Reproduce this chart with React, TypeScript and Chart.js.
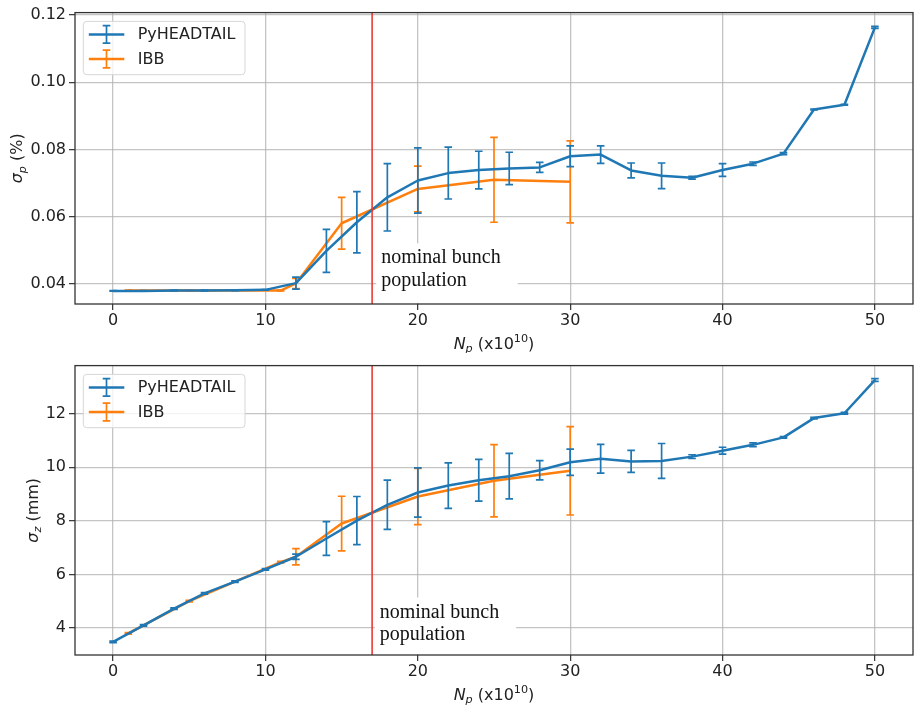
import React, { useEffect, useRef } from 'react';
import { Chart, registerables } from 'chart.js';

Chart.register(...registerables);

// ---- data -------------------------------------------------------------
const seriesNames = ['PyHEADTAIL', 'IBB'];

const pyNp = [0, 2, 4, 6, 8, 10, 12, 14, 16, 18, 20, 22, 24, 26, 28, 30, 32, 34, 36, 38, 40, 42, 44, 46, 48, 50];
const pySigmaP = [0.038, 0.038, 0.0381, 0.0381, 0.0382, 0.0383, 0.0403, 0.0499, 0.0584, 0.0658, 0.0708, 0.073, 0.0739, 0.0744, 0.0747, 0.078, 0.0785, 0.0738, 0.0722, 0.0716, 0.0739, 0.0758, 0.0788, 0.0919, 0.0933, 0.1163];
const pySigmaPErr = [0.0001, 0.0001, 0.0001, 0.0001, 0.0001, 0.0001, 0.0018, 0.0064, 0.0091, 0.01, 0.0097, 0.0077, 0.0056, 0.0048, 0.0015, 0.0031, 0.0026, 0.0022, 0.0038, 0.0004, 0.0019, 0.0005, 0.0003, 0.0001, 0.0001, 0.0003];
const pySigmaZ = [3.48, 4.1, 4.72, 5.29, 5.73, 6.19, 6.66, 7.34, 8.01, 8.6, 9.06, 9.32, 9.52, 9.67, 9.89, 10.19, 10.32, 10.22, 10.24, 10.4, 10.62, 10.84, 11.12, 11.84, 12.02, 13.26];
const pySigmaZErr = [0.03, 0.03, 0.03, 0.03, 0.03, 0.03, 0.1, 0.63, 0.9, 0.92, 0.92, 0.85, 0.78, 0.85, 0.36, 0.49, 0.54, 0.41, 0.65, 0.07, 0.13, 0.07, 0.03, 0.03, 0.03, 0.05];

const ibbNp = [1, 5, 11, 12, 15, 20, 25, 30];
const ibbSigmaP = [0.0381, 0.0381, 0.0381, 0.0402, 0.0581, 0.0683, 0.071, 0.0704];
const ibbSigmaPErr = [0.0001, 0.0001, 0.0001, 0.0015, 0.0077, 0.0068, 0.0126, 0.0122];
const ibbSigmaZ = [3.8, 5.0, 6.46, 6.66, 7.9, 8.91, 9.5, 9.87];
const ibbSigmaZErr = [0.03, 0.03, 0.03, 0.3, 1.02, 1.05, 1.35, 1.65];

const xTicks = [0, 10, 20, 30, 40, 50];
const sigmaPTicks = [0.04, 0.06, 0.08, 0.1, 0.12];
const sigmaZTicks = [4, 6, 8, 10, 12];

const nominalNp = 17;
const annotationLines = ['nominal bunch', 'population'];

// ---- style -------------------------------------------------------------
const BLUE = '#1f77b4';
const ORANGE = '#ff7f0e';
const SANS = '"DejaVu Sans"';
const TICK_FONT_SIZE = 16;
const TICK_LEN = 6;

type Part = { text: string; size: number; italic?: boolean; dy?: number };

function drawRich(ctx: CanvasRenderingContext2D, parts: Part[], cx: number, cy: number) {
  let total = 0;
  const widths = parts.map((p) => {
    ctx.font = `${p.italic ? 'italic ' : ''}${p.size}px ${SANS}`;
    const w = ctx.measureText(p.text).width;
    total += w;
    return w;
  });
  let x = cx - total / 2;
  ctx.textBaseline = 'alphabetic';
  ctx.textAlign = 'left';
  parts.forEach((p, i) => {
    ctx.font = `${p.italic ? 'italic ' : ''}${p.size}px ${SANS}`;
    ctx.fillText(p.text, x, cy + (p.dy || 0));
    x += widths[i];
  });
}

type PanelSpec = {
  errors: number[][];
  yTitle: Part[];
  annotX: number;
  annotY: number;
};

function makeDecor(spec: PanelSpec) {
  return {
    id: 'panelDecor',
    beforeDatasetDraw(chart: any, args: any) {
      const ds = chart.data.datasets[args.index];
      const errs = spec.errors[args.index];
      const xs = chart.scales.x;
      const ys = chart.scales.y;
      const ctx = chart.ctx as CanvasRenderingContext2D;
      const area = chart.chartArea;
      ctx.save();
      ctx.beginPath();
      ctx.rect(area.left, area.top, area.right - area.left, area.bottom - area.top);
      ctx.clip();
      ctx.strokeStyle = ds.borderColor;
      ctx.lineWidth = 1.7;
      const cap = 3.8;
      ds.data.forEach((pt: { x: number; y: number }, i: number) => {
        const e = errs[i];
        const px = xs.getPixelForValue(pt.x);
        const y1 = ys.getPixelForValue(pt.y + e);
        const y2 = ys.getPixelForValue(pt.y - e);
        ctx.beginPath();
        ctx.moveTo(px, y1);
        ctx.lineTo(px, y2);
        ctx.moveTo(px - cap, y1);
        ctx.lineTo(px + cap, y1);
        ctx.moveTo(px - cap, y2);
        ctx.lineTo(px + cap, y2);
        ctx.stroke();
      });
      ctx.restore();
    },
    afterDatasetsDraw(chart: any) {
      const ctx = chart.ctx as CanvasRenderingContext2D;
      const area = chart.chartArea;
      const xs = chart.scales.x;
      const ys = chart.scales.y;

      // vertical marker at the nominal population
      const rx = xs.getPixelForValue(nominalNp);
      ctx.save();
      ctx.strokeStyle = 'rgb(238,58,48)';
      ctx.lineWidth = 1.6;
      ctx.beginPath();
      ctx.moveTo(rx, area.top);
      ctx.lineTo(rx, area.bottom);
      ctx.stroke();

      // annotation with white box
      ctx.font = `20px "Liberation Serif"`;
      const tx = xs.getPixelForValue(spec.annotX);
      const base2 = ys.getPixelForValue(spec.annotY);
      const gap = 22.5;
      const base1 = base2 - gap;
      const maxW = Math.max(...annotationLines.map((t) => ctx.measureText(t).width));
      const bl = tx - 5;
      const bt = base1 - 20;
      const br = tx + maxW + 17;
      const bb = Math.min(base2 + 17, area.bottom - 1);
      ctx.fillStyle = '#ffffff';
      ctx.fillRect(bl, bt, br - bl, bb - bt);
      ctx.fillStyle = '#111';
      ctx.textAlign = 'left';
      ctx.textBaseline = 'alphabetic';
      ctx.fillText(annotationLines[0], tx, base1);
      ctx.fillText(annotationLines[1], tx, base2);

      // frame
      ctx.strokeStyle = '#333';
      ctx.lineWidth = 1.3;
      ctx.strokeRect(area.left, area.top, area.right - area.left, area.bottom - area.top);
      ctx.restore();
    },
    afterDraw(chart: any) {
      const ctx = chart.ctx as CanvasRenderingContext2D;
      const area = chart.chartArea;
      const ys = chart.scales.y;
      ctx.save();

      // legend
      const lx = area.left + 8.3;
      const ly = area.top + 8.8;
      const lw = 161.7;
      const lh = 53.3;
      ctx.beginPath();
      ctx.roundRect(lx, ly, lw, lh, 3.5);
      ctx.fillStyle = 'rgba(255,255,255,0.8)';
      ctx.fill();
      ctx.strokeStyle = '#d6d6d6';
      ctx.lineWidth = 1;
      ctx.stroke();
      const colors = [BLUE, ORANGE];
      seriesNames.forEach((name, i) => {
        const ry = ly + 13 + i * 24.6;
        ctx.strokeStyle = colors[i];
        ctx.lineWidth = 2.5;
        ctx.beginPath();
        ctx.moveTo(lx + 5.5, ry);
        ctx.lineTo(lx + 41, ry);
        ctx.stroke();
        const cx = lx + 23.2;
        ctx.lineWidth = 1.7;
        ctx.beginPath();
        ctx.moveTo(cx, ry - 8.8);
        ctx.lineTo(cx, ry + 8.8);
        ctx.moveTo(cx - 3.8, ry - 8.8);
        ctx.lineTo(cx + 3.8, ry - 8.8);
        ctx.moveTo(cx - 3.8, ry + 8.8);
        ctx.lineTo(cx + 3.8, ry + 8.8);
        ctx.stroke();
        ctx.fillStyle = '#222';
        ctx.font = `16px ${SANS}`;
        ctx.textAlign = 'left';
        ctx.textBaseline = 'middle';
        ctx.fillText(name, lx + 54.4, ry + 0.5);
      });

      // axis titles
      ctx.fillStyle = '#222';
      ctx.font = `${TICK_FONT_SIZE}px ${SANS}`;
      const labW = Math.max(...ys.ticks.map((t: any) => ctx.measureText(String(t.label)).width));
      const tcx = area.left - TICK_LEN - 3 - labW - 13.5;
      const tcy = (area.top + area.bottom) / 2;
      ctx.save();
      ctx.translate(tcx, tcy);
      ctx.rotate(-Math.PI / 2);
      drawRich(ctx, spec.yTitle, 0, 5.5);
      ctx.restore();

      drawRich(
        ctx,
        [
          { text: 'N', size: 16, italic: true },
          { text: 'p', size: 11.2, italic: true, dy: 3.5 },
          { text: ' (x10', size: 16 },
          { text: '10', size: 11.2, dy: -7 },
          { text: ')', size: 16 },
        ],
        (area.left + area.right) / 2,
        area.bottom + 44.5
      );
      ctx.restore();
    },
  };
}

type Build = {
  py: number[];
  pyErr: number[];
  ibb: number[];
  ibbErr: number[];
  yMin: number;
  yMax: number;
  yTicks: number[];
  yFmt: (v: number) => string;
  padTop: number;
  xAxisH: number;
  yTitle: Part[];
  annotX: number;
  annotY: number;
};

function buildChart(canvas: HTMLCanvasElement, b: Build) {
  const gridColor = 'rgba(176,176,176,0.75)';
  const tickFont = { family: 'DejaVu Sans', size: TICK_FONT_SIZE };
  return new Chart(canvas, {
    type: 'line',
    data: {
      datasets: [
        {
          label: seriesNames[0],
          data: pyNp.map((x, i) => ({ x, y: b.py[i] })),
          borderColor: BLUE,
          backgroundColor: BLUE,
          borderWidth: 2.5,
          pointRadius: 0,
          tension: 0,
          borderJoinStyle: 'round',
        },
        {
          label: seriesNames[1],
          data: ibbNp.map((x, i) => ({ x, y: b.ibb[i] })),
          borderColor: ORANGE,
          backgroundColor: ORANGE,
          borderWidth: 2.5,
          pointRadius: 0,
          tension: 0,
          borderJoinStyle: 'round',
        },
      ],
    },
    options: {
      animation: false,
      responsive: false,
      devicePixelRatio: 1,
      layout: { padding: { top: b.padTop, right: 2, left: 0, bottom: 0 } },
      plugins: { legend: { display: false }, tooltip: { enabled: false } },
      scales: {
        x: {
          type: 'linear',
          min: -2.5,
          max: 52.5,
          afterBuildTicks: (s: any) => {
            s.ticks = xTicks.map((v) => ({ value: v }));
          },
          afterFit: (s: any) => {
            s.height = b.xAxisH;
          },
          grid: { color: gridColor, lineWidth: 1.3, tickLength: TICK_LEN, tickColor: '#333', tickWidth: 1.2 },
          border: { display: false },
          ticks: { font: tickFont, color: '#222', padding: 1, maxRotation: 0, autoSkip: false, callback: (v: any) => String(v) },
        },
        y: {
          type: 'linear',
          min: b.yMin,
          max: b.yMax,
          afterBuildTicks: (s: any) => {
            s.ticks = b.yTicks.map((v) => ({ value: v }));
          },
          afterFit: (s: any) => {
            s.width = 75;
          },
          grid: { color: gridColor, lineWidth: 1.3, tickLength: TICK_LEN, tickColor: '#333', tickWidth: 1.2 },
          border: { display: false },
          ticks: { font: tickFont, color: '#222', padding: 3, autoSkip: false, callback: (v: any) => b.yFmt(Number(v)) },
        },
      },
    },
    plugins: [
      makeDecor({ errors: [b.pyErr, b.ibbErr], yTitle: b.yTitle, annotX: b.annotX, annotY: b.annotY }),
    ],
  } as any);
}

export default function App() {
  const topRef = useRef<HTMLCanvasElement>(null);
  const botRef = useRef<HTMLCanvasElement>(null);

  useEffect(() => {
    const top = buildChart(topRef.current!, {
      py: pySigmaP,
      pyErr: pySigmaPErr,
      ibb: ibbSigmaP,
      ibbErr: ibbSigmaPErr,
      yMin: 0.0341,
      yMax: 0.1207,
      yTicks: sigmaPTicks,
      yFmt: (v) => v.toFixed(2),
      padTop: 11,
      xAxisH: 49,
      yTitle: [
        { text: 'σ', size: 16, italic: true },
        { text: 'p', size: 11.2, italic: true, dy: 3.5 },
        { text: ' (%)', size: 16 },
      ],
      annotX: 17.6,
      annotY: 0.0395,
    });
    const bottom = buildChart(botRef.current!, {
      py: pySigmaZ,
      pyErr: pySigmaZErr,
      ibb: ibbSigmaZ,
      ibbErr: ibbSigmaZErr,
      yMin: 2.99,
      yMax: 13.8,
      yTicks: sigmaZTicks,
      yFmt: (v) => String(Math.round(v)),
      padTop: 10,
      xAxisH: 51,
      yTitle: [
        { text: 'σ', size: 16, italic: true },
        { text: 'z', size: 11.2, italic: true, dy: 3.5 },
        { text: ' (mm)', size: 16 },
      ],
      annotX: 17.5,
      annotY: 3.55,
    });
    return () => {
      top.destroy();
      bottom.destroy();
    };
  }, []);

  return (
    <div style={{ position: 'absolute', left: 0, top: 0, width: 915, height: 706, background: '#ffffff' }}>
      <canvas ref={topRef} width={915} height={353} style={{ position: 'absolute', left: 0, top: 0, width: 915, height: 353 }} />
      <canvas ref={botRef} width={915} height={353} style={{ position: 'absolute', left: 0, top: 353, width: 915, height: 353 }} />
    </div>
  );
}
